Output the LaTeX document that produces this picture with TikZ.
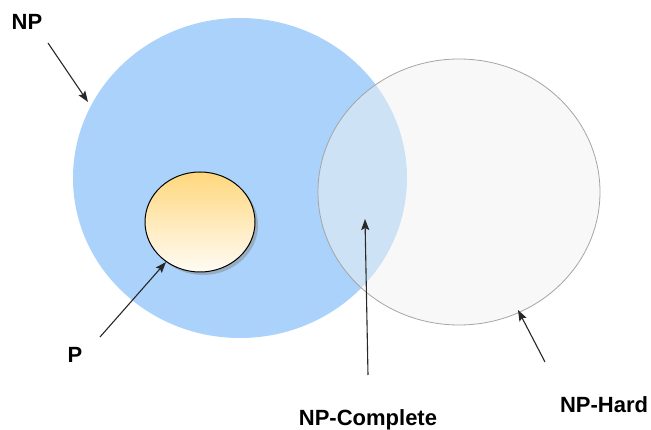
\documentclass[tikz,border=0pt]{standalone}
\usepackage{fontspec}
\setmainfont{Liberation Sans}
\usetikzlibrary{arrows.meta,shapes.geometric,shadows}
\definecolor{npblue}{RGB}{170,210,250}
\definecolor{hardfill}{RGB}{242,242,242}
\definecolor{hardline}{RGB}{165,165,165}
\definecolor{ptop}{RGB}{255,215,125}
\definecolor{pbottom}{RGB}{255,252,245}
\definecolor{arrowgray}{RGB}{40,40,40}
\tikzset{
  setbase/.style={ellipse, inner sep=0pt},
  lbl/.style={font=\fontsize{22}{26}\selectfont\bfseries, inner sep=0pt, anchor=base},
  arr/.style={draw=arrowgray, line width=1.1pt, -{Stealth[length=11pt, width=8pt, inset=2pt]}}
}
\begin{document}
\begin{tikzpicture}[x=1pt, y=-1pt]
\useasboundingbox (0,0) rectangle (651,430);

% NP set
\node[setbase, fill=npblue, minimum width=334pt, minimum height=320pt] (np) at (240,178) {};

% P set, shaded with a soft drop shadow
\node[setbase, draw=black, line width=1pt, top color=ptop, bottom color=pbottom,
      minimum width=110pt, minimum height=100pt,
      drop shadow={shadow xshift=3pt, shadow yshift=-3pt, opacity=0.45}] (p) at (200,222) {};

% NP-Hard set, translucent over NP
\node[setbase, fill=hardfill, fill opacity=0.5, draw=hardline, line width=0.8pt,
      minimum width=282pt, minimum height=266pt] (nphard) at (459,192) {};

% labels
\node[lbl] (lnp) at (27,30) {NP};
\node[lbl] (lp) at (75,363) {P};
\node[lbl] (lnpc) at (368,425) {NP-Complete};
\node[lbl] (lnph) at (604,413) {NP-Hard};

% arrow end points
\coordinate (npTail) at (48,43);
\coordinate (npHead) at (88,102);
\coordinate (pTail) at (100,337);
\coordinate (pHead) at (166,262);
\coordinate (npcTail) at (368,375);
\coordinate (npcHead) at (365,219);
\coordinate (nphTail) at (545,362);
\coordinate (nphHead) at (518,310);

\draw[arr] (npTail) -- (npHead);
\draw[arr] (pTail) -- (pHead);
\draw[arr] (npcTail) -- (npcHead);
\draw[arr] (nphTail) -- (nphHead);
\end{tikzpicture}
\end{document}
